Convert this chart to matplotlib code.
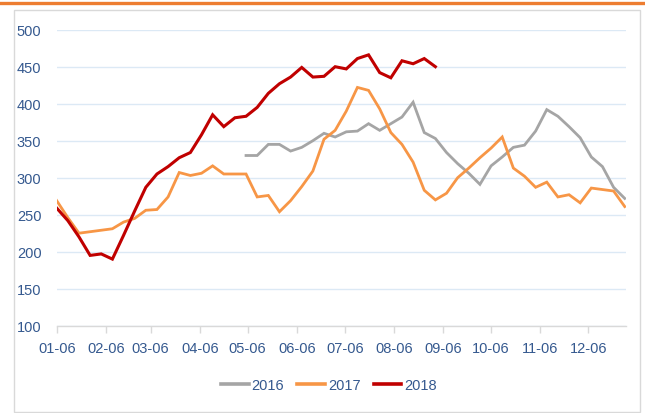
import matplotlib
matplotlib.use("Agg")
import matplotlib.pyplot as plt
from matplotlib.lines import Line2D
from matplotlib.patches import Rectangle

# ---- data (weekly observations, week index from 01-06) ----
week_days = 7  # spacing between observations, days
s2016_start = 17
s2016 = [330, 330, 345, 345, 336, 341, 350, 360, 355, 362, 363, 373, 364, 373,
         382, 402, 361, 353, 334, 319, 306, 291, 316, 328, 341, 344, 363, 392,
         383, 369, 354, 328, 315, 287, 272]
s2017 = [269, 246, 225, 227, 229, 231, 240, 245, 256, 257, 274, 307, 303, 306,
         316, 305, 305, 305, 274, 276, 254, 269, 288, 309, 352, 364, 390, 422,
         418, 393, 361, 345, 321, 283, 270, 279, 300, 313, 327, 340, 355, 313,
         302, 287, 294, 274, 277, 266, 286, 284, 282, 261]
s2018 = [259, 242, 220, 195, 197, 190, 222, 255, 287, 305, 315, 327, 334, 358,
         385, 369, 381, 383, 395, 414, 427, 436, 449, 436, 437, 450, 447, 461,
         466, 442, 435, 458, 454, 461, 450]
series_names = ["2016", "2017", "2018"]
tick_days = [0, 31, 59, 90, 120, 151, 181, 212, 243, 273, 304, 334]
tick_labels = ["01-06", "02-06", "03-06", "04-06", "05-06", "06-06",
               "07-06", "08-06", "09-06", "10-06", "11-06", "12-06"]
y_ticks = [100, 150, 200, 250, 300, 350, 400, 450, 500]

colors = {"2016": "#A5A5A5", "2017": "#F79646", "2018": "#C00000"}
text_color = "#35598F"

plt.rcParams['font.family'] = ['Liberation Sans Narrow', 'Liberation Sans', 'DejaVu Sans']

W, H = 645, 414
fig = plt.figure(figsize=(W / 100, H / 100), dpi=100)

# outer decorations
fig.add_artist(Line2D([0, 1], [1 - 3.5 / H, 1 - 3.5 / H], color="#ED7D31",
                      linewidth=2.4, transform=fig.transFigure))
fig.add_artist(Rectangle((13.5 / W, 1 - 412.5 / H), (640 - 13.5) / W, (412.5 - 10.5) / H,
                         transform=fig.transFigure, fill=False,
                         edgecolor="#D9D9D9", linewidth=1.0))

left, right = 56.7 / W, 626 / W
top, bottom = 1 - 30.7 / H, 1 - 326.7 / H
ax = fig.add_axes([left, bottom, right - left, top - bottom])

x16 = [(s2016_start + i) * week_days for i in range(len(s2016))]
x17 = [i * week_days for i in range(len(s2017))]
x18 = [i * week_days for i in range(len(s2018))]

lw = 2.0
ax.plot(x16, s2016, color=colors["2016"], lw=lw, label="2016", solid_joinstyle="miter")
ax.plot(x17, s2017, color=colors["2017"], lw=lw, label="2017", solid_joinstyle="miter")
ax.plot(x18, s2018, color=colors["2018"], lw=2.2, label="2018", solid_joinstyle="miter")

ax.set_xlim(0, 357.8)
ax.set_ylim(100, 500)
ax.set_yticks(y_ticks)
ax.set_xticks(tick_days)
ax.set_xticklabels(tick_labels)
ax.grid(axis="y", color="#DCE9F5", linewidth=1.0)
ax.set_axisbelow(True)
for s in ["top", "right", "left"]:
    ax.spines[s].set_visible(False)
ax.spines["bottom"].set_color("#D9D9D9")
ax.spines["bottom"].set_linewidth(1.0)
ax.tick_params(axis="y", length=0, pad=11, labelsize=10.5, labelcolor=text_color)
ax.tick_params(axis="x", length=5, width=1.0, color="#D9D9D9", pad=6,
               labelsize=10.5, labelcolor=text_color)

leg = fig.legend(handles=ax.get_lines(), labels=series_names, loc="center",
                 bbox_to_anchor=(329 / W, 1 - 386 / H), ncol=3, frameon=False,
                 fontsize=10.5, handlelength=1.9, handletextpad=0.2,
                 columnspacing=0.9)
for t in leg.get_texts():
    t.set_color(text_color)
for l in leg.get_lines():
    l.set_linewidth(2.6)

fig.savefig("out.png", dpi=100)
